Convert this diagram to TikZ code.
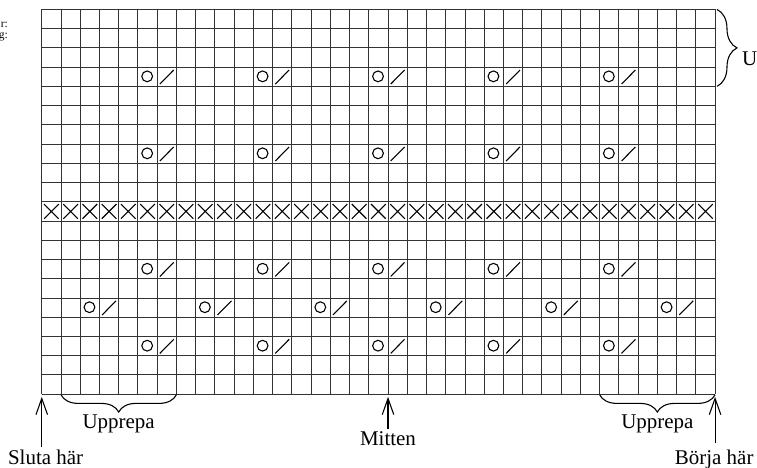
\documentclass[tikz,border=0pt]{standalone}
\usepackage{fontspec}
\setmainfont{Liberation Serif}
\usetikzlibrary{arrows.meta, positioning, decorations.pathreplacing}

\begin{document}
\begin{tikzpicture}[
    x=0.5cm, y=0.5cm,
    every node/.style={align=center, font=\fontsize{15.5}{18}\selectfont},
    gridline/.style={draw=black!80, line width=0.7pt},
    sym/.style={line width=0.8pt},
    pointer/.style={-{Straight Barb[length=4.2mm, width=3mm]}, line width=0.8pt},
    tag/.style={inner sep=2pt, anchor=base},
    brc/.style={decorate, decoration={brace, amplitude=0.45cm}, line width=0.8pt}
]
    \useasboundingbox (-2.17,-3.83) rectangle (37.18,20.49);

    % Grid
    \draw[gridline, step=0.5cm] (0,0) grid (35,20);

    % Cross row
    \foreach \c in {0,...,34}
        \draw[sym] (\c+0.12,9.12) -- (\c+0.88,9.88) (\c+0.12,9.88) -- (\c+0.88,9.12);

    % Yarn over + decrease
    \foreach \r in {16,12,6,2}
        \foreach \c in {5,11,...,29} {
            \draw[sym] (\c+0.48,\r+0.52) circle[radius=0.28];
            \draw[sym] (\c+1.14,\r+0.12) -- (\c+1.86,\r+0.85);
        }
    \foreach \c in {2,8,...,32} {
        \draw[sym] (\c+0.48,4.52) circle[radius=0.28];
        \draw[sym] (\c+1.14,4.12) -- (\c+1.86,4.85);
    }

    % Nodes
    \node[font=\fontsize{8.5}{10}\selectfont, anchor=base east, inner sep=0pt] (frag1) at (-1.75,19.04) {r:};
    \node[font=\fontsize{8.5}{10}\selectfont, anchor=base east, inner sep=0pt] (frag2) at (-1.75,18.47) {g:};

    \coordinate (endpt) at (0,-0.14);
    \coordinate (midpt) at (18,-0.14);
    \coordinate (startpt) at (35,-0.14);

    \node[tag] (sluta) at (0.2,-3.68) {Sluta här};
    \node[tag] (mitten) at (18,-2.69) {Mitten};
    \node[tag, anchor=base west] (borja) at (32.76,-3.68) {Börja här};

    \node[tag] (upp1) at (4,-1.81) {Upprepa};
    \node[tag] (upp2) at (32,-1.81) {Upprepa};
    \node[tag, anchor=base west] (upp3) at (36.25,17.11) {U};

    % Arrows
    \draw[pointer] (sluta.north -| endpt) -- (endpt);
    \draw[pointer] (mitten) -- (midpt);
    \draw[pointer, shorten <=3pt] (borja.north -| startpt) -- (startpt);

    % Braces
    \draw[brc] (7,-0.03) -- (1,-0.03);
    \draw[brc] (35,-0.03) -- (29,-0.03);
    \draw[brc, decoration={amplitude=0.52cm}] (35.1,20) -- (35.1,16);

\end{tikzpicture}
\end{document}
